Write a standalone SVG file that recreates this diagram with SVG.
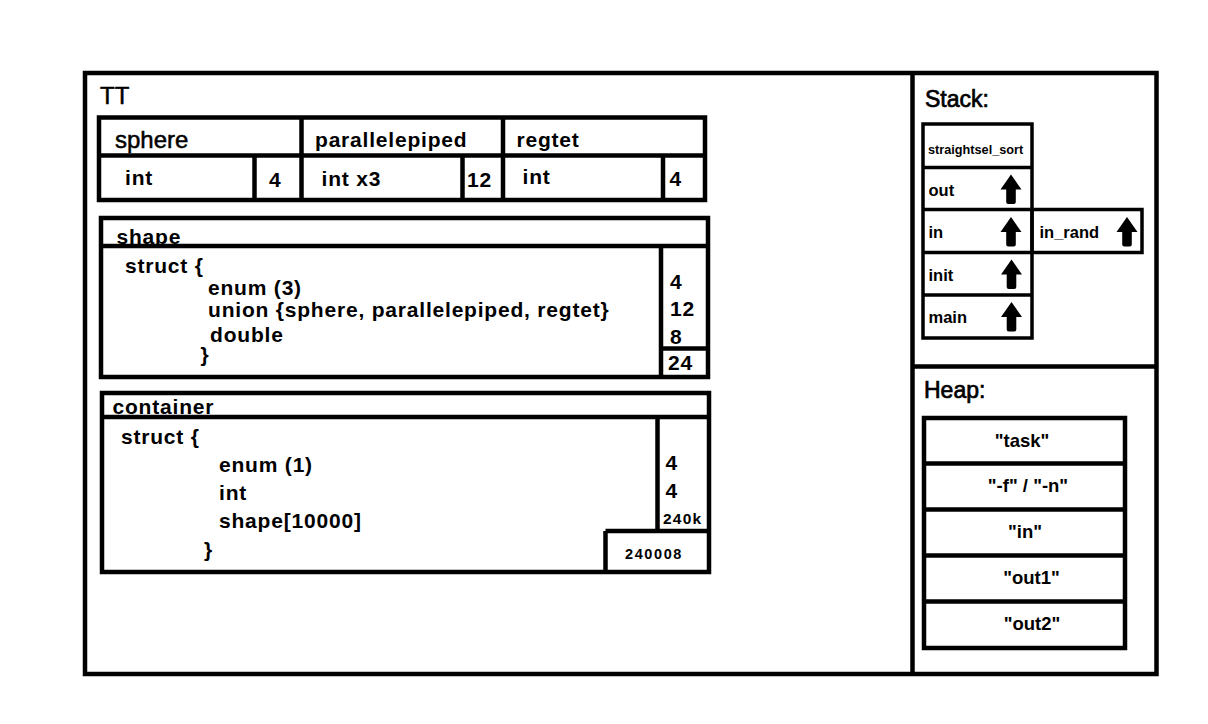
<svg xmlns="http://www.w3.org/2000/svg" width="1208" height="724" viewBox="0 0 1208 724">
<style>
.ln{stroke:#000;stroke-width:4.5;fill:none}
.th{stroke:#000;stroke-width:3.5;fill:none}
text{font-family:"Liberation Sans",Arial,sans-serif;fill:#000}
.r24{font-size:24px;stroke:#000;stroke-width:0.5}
.r23{font-size:23px;stroke:#000;stroke-width:0.7}
.b20{font-size:21px;font-weight:bold;letter-spacing:0.8px}
.b16{font-size:16.5px;font-weight:bold}
.b13{font-size:12.7px;font-weight:bold}
.b15{font-size:15.5px;font-weight:bold;letter-spacing:1.2px}
.b14{font-size:14.5px;font-weight:bold;letter-spacing:1.6px}
.h18{font-size:18.5px;font-weight:bold;text-anchor:middle}
</style>
<defs>
<path id="arr" d="M0,0 L10.5,15 L4.8,15 L4.8,27.5 Q4.8,29.5 2.8,29.5 L-2.8,29.5 Q-4.8,29.5 -4.8,27.5 L-4.8,15 L-10.5,15 Z" fill="#000"/>
</defs>
<rect width="1208" height="724" fill="#fff"/>

<g id="frame">
<rect class="ln" x="85" y="73" width="1071.5" height="601"/>
<line class="ln" x1="912.5" y1="73" x2="912.5" y2="674"/>
<line class="ln" x1="912.5" y1="366.5" x2="1156.5" y2="366.5"/>
<text class="r24" x="100" y="104">TT</text>
<text class="r23" x="925" y="107">Stack:</text>
<text class="r23" x="924" y="398">Heap:</text>
</g>

<g id="types">
<rect class="ln" x="99" y="117.5" width="606" height="82.5"/>
<line class="ln" x1="99" y1="155.5" x2="705" y2="155.5"/>
<line class="ln" x1="301.5" y1="117.5" x2="301.5" y2="200"/>
<line class="ln" x1="503" y1="117.5" x2="503" y2="200"/>
<line class="ln" x1="254.5" y1="155.5" x2="254.5" y2="200"/>
<line class="ln" x1="462.5" y1="155.5" x2="462.5" y2="200"/>
<line class="ln" x1="663" y1="155.5" x2="663" y2="200"/>
<text class="r24" x="115" y="147.5">sphere</text>
<text class="b20" x="315" y="146.5">parallelepiped</text>
<text class="b20" x="516.5" y="146.5">regtet</text>
<text class="b20" x="125" y="184.5">int</text>
<text class="b20" x="269" y="187">4</text>
<text class="b20" x="321.5" y="185.5">int x3</text>
<text class="b20" x="467" y="186.5">12</text>
<text class="b20" x="522.5" y="183.5">int</text>
<text class="b20" x="669.5" y="186">4</text>
</g>

<g id="shape">
<rect class="ln" x="101" y="218" width="607" height="159"/>
<line class="ln" x1="101" y1="246" x2="708" y2="246"/>
<line class="ln" x1="661" y1="246" x2="661" y2="377"/>
<line class="ln" x1="661" y1="348.5" x2="708" y2="348.5"/>
<text class="b20" x="116.5" y="243.5">shape</text>
<text class="b20" x="125" y="272.5">struct {</text>
<text class="b20" x="208" y="294.5">enum  (3)</text>
<text class="b20" x="208" y="316.5">union {sphere, parallelepiped, regtet}</text>
<text class="b20" x="210" y="342">double</text>
<text class="b20" x="200.5" y="362">}</text>
<text class="b20" x="670" y="289">4</text>
<text class="b20" x="670" y="316">12</text>
<text class="b20" x="670" y="343.5">8</text>
<text class="b20" x="668" y="369.5">24</text>
</g>

<g id="container">
<rect class="ln" x="102" y="393" width="607" height="179"/>
<line class="ln" x1="102" y1="417" x2="709" y2="417"/>
<line class="ln" x1="657.5" y1="417" x2="657.5" y2="531"/>
<line class="ln" x1="605.5" y1="531" x2="709" y2="531"/>
<line class="ln" x1="605.5" y1="531" x2="605.5" y2="572"/>
<text class="b20" x="112.5" y="413.5">container</text>
<text class="b20" x="121" y="443.5">struct {</text>
<text class="b20" x="219" y="472">enum (1)</text>
<text class="b20" x="219" y="499.5">int</text>
<text class="b20" x="219" y="527.5">shape[10000]</text>
<text class="b20" x="204" y="556.5">}</text>
<text class="b20" x="665.5" y="470">4</text>
<text class="b20" x="665.5" y="497.5">4</text>
<text class="b15" x="663" y="524">240k</text>
<text class="b14" x="625" y="558.5">240008</text>
</g>

<g id="stack">
<rect class="th" x="923" y="124" width="109" height="214"/>
<line class="th" x1="923" y1="167.5" x2="1032" y2="167.5"/>
<line class="th" x1="923" y1="209.5" x2="1032" y2="209.5"/>
<line class="th" x1="923" y1="252.5" x2="1032" y2="252.5"/>
<line class="th" x1="923" y1="295" x2="1032" y2="295"/>
<rect class="th" x="1032" y="209.5" width="110" height="43"/>
<text class="b13" x="928" y="153.5">straightsel_sort</text>
<text class="b16" x="928.5" y="195.5">out</text>
<text class="b16" x="928.5" y="238">in</text>
<text class="b16" x="928.5" y="281">init</text>
<text class="b16" x="928.5" y="323">main</text>
<text class="b16" x="1039.5" y="238">in_rand</text>
<use href="#arr" x="1011" y="174.5"/>
<use href="#arr" x="1011" y="217"/>
<use href="#arr" x="1011.5" y="259.5"/>
<use href="#arr" x="1011.5" y="302"/>
<use href="#arr" x="1127" y="217"/>
</g>

<g id="heap">
<rect class="ln" x="924" y="418" width="201" height="230"/>
<line class="ln" x1="924" y1="463.5" x2="1125" y2="463.5"/>
<line class="ln" x1="924" y1="509.5" x2="1125" y2="509.5"/>
<line class="ln" x1="924" y1="555.5" x2="1125" y2="555.5"/>
<line class="ln" x1="924" y1="601.5" x2="1125" y2="601.5"/>
<text class="h18" x="1022" y="446.5">"task"</text>
<text class="h18" x="1028" y="492">"-f" / "-n"</text>
<text class="h18" x="1025" y="538">"in"</text>
<text class="h18" x="1031.5" y="584">"out1"</text>
<text class="h18" x="1032" y="629.5">"out2"</text>
</g>

<g id="connectors"></g>
</svg>
